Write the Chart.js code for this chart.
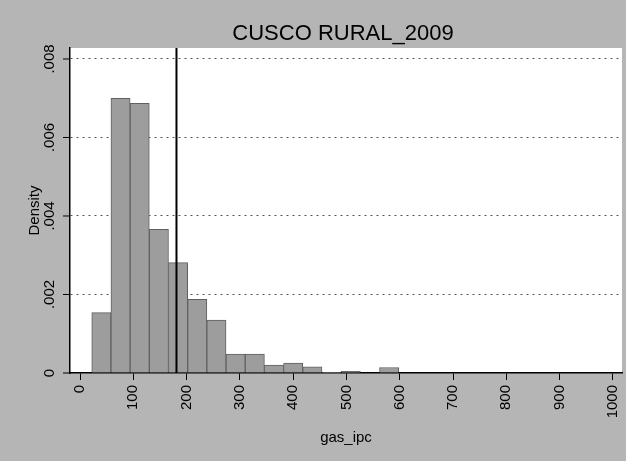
<!DOCTYPE html>
<html>
<head>
<meta charset="utf-8">
<script src="https://cdn.jsdelivr.net/npm/chart.js@4"></script>
<style>
  html, body { margin: 0; padding: 0; background: #b5b5b5; }
  #wrap { width: 626px; height: 461px; }
</style>
</head>
<body>
<div id="wrap"><canvas id="histo" width="626" height="461"></canvas></div>
<script>
// histogram bins (midpoints, width 36) and densities
const binMids = [40, 76, 112, 148, 184, 220, 256, 292, 328, 364, 400, 436, 472, 508, 544, 580];
const density = [0.00154, 0.0070, 0.00687, 0.00366, 0.00281, 0.00188, 0.00135, 0.00048, 0.00048, 0.0002, 0.00025, 0.00016, 0.00002, 0.00004, 0, 0.00014];
const xTicks = [0, 100, 200, 300, 400, 500, 600, 700, 800, 900, 1000];
const yTicks = [0, 0.002, 0.004, 0.006, 0.008];
const yTickLabels = ['0', '.002', '.004', '.006', '.008'];
const meanLine = 181;

const FONT = "'Liberation Sans', Arial, sans-serif";

// page bg, white plot region, y labels, mean line, title
const stataBits = {
  id: 'stataBits',
  beforeDraw(chart) {
    const c = chart.ctx, a = chart.chartArea;
    c.save();
    c.fillStyle = '#b5b5b5';
    c.fillRect(0, 0, chart.width, chart.height);
    c.fillStyle = '#ffffff';
    c.fillRect(a.left, a.top, a.right - a.left, a.bottom - a.top);
    c.restore();
  },
  afterDraw(chart) {
    const c = chart.ctx, a = chart.chartArea;
    const ys = chart.scales.y, xs = chart.scales.x;
    c.save();
    // y ticks + rotated labels
    c.strokeStyle = '#000';
    c.lineWidth = 1;
    c.fillStyle = '#000';
    c.font = '15px ' + FONT;
    c.textAlign = 'center';
    c.textBaseline = 'middle';
    yTicks.forEach((v, i) => {
      const py = ys.getPixelForValue(v);
      c.beginPath();
      c.moveTo(a.left - 7, py);
      c.lineTo(a.left, py);
      c.stroke();
      c.save();
      c.translate(a.left - 20, py);
      c.rotate(-Math.PI / 2);
      c.fillText(yTickLabels[i], 0, 0);
      c.restore();
    });
    // y title
    c.save();
    c.translate(35, (a.top + a.bottom) / 2);
    c.rotate(-Math.PI / 2);
    c.fillText('Density', 0, 0);
    c.restore();
    // mean line
    const mx = xs.getPixelForValue(meanLine);
    c.lineWidth = 2;
    c.beginPath();
    c.moveTo(mx, a.top);
    c.lineTo(mx, a.bottom);
    c.stroke();
    // title
    c.font = '22px ' + FONT;
    c.fillText('CUSCO RURAL_2009', 343, 34);
    c.restore();
  }
};

const ctx = document.getElementById('histo');
const histo = new Chart(ctx, {
  type: 'bar',
  data: {
    datasets: [{
      data: binMids.map((m, i) => ({ x: m, y: density[i] })),
      backgroundColor: '#9d9d9d',
      borderColor: '#606060',
      borderWidth: 1,
      barPercentage: 1,
      categoryPercentage: 1,
      grouped: false
    }]
  },
  options: {
    responsive: false,
    animation: false,
    layout: { padding: { top: 48, right: 4, left: 0, bottom: 0 } },
    plugins: {
      legend: { display: false },
      tooltip: { enabled: false }
    },
    scales: {
      x: {
        type: 'linear',
        offset: false,
        min: -18.8,
        max: 1017,
        afterBuildTicks: s => { s.ticks = xTicks.map(v => ({ value: v })); },
        afterFit: s => { s.height = 88; s.paddingLeft = 0; s.paddingRight = 0; },
        ticks: {
          autoSkip: false,
          minRotation: 90,
          maxRotation: 90,
          padding: 5,
          color: '#000',
          font: { family: FONT, size: 15 },
          callback: v => String(v)
        },
        grid: { drawOnChartArea: false, offset: false, color: '#000', tickLength: 7 },
        border: { color: '#000', width: 1.5 },
        title: {
          display: true,
          text: 'gas_ipc',
          color: '#000',
          font: { family: FONT, size: 15 },
          padding: { top: 0, bottom: 14 }
        }
      },
      y: {
        min: 0,
        max: 0.00828,
        afterBuildTicks: s => { s.ticks = yTicks.map(v => ({ value: v })); },
        afterFit: s => { s.width = 70; s.paddingTop = 0; s.paddingBottom = 0; },
        ticks: { display: false },
        grid: {
          color: c => c.tick.value === 0 ? 'rgba(0,0,0,0)' : '#555',
          lineWidth: 1,
          drawTicks: false
        },
        border: { color: '#000', width: 1.5, dash: [2, 4] }
      }
    }
  },
  plugins: [stataBits]
});
</script>
</body>
</html>
